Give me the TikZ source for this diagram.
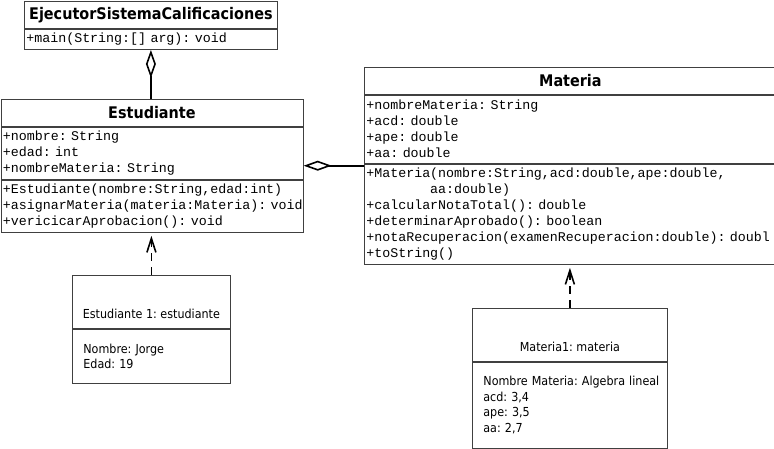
\documentclass[tikz,border=0pt]{standalone}
\usepackage{fontspec}
\usetikzlibrary{arrows.meta,fit,positioning}

\newfontfamily\umlsans{DejaVu Sans Condensed}
\newfontfamily\umlmono{Liberation Mono}
\frenchspacing
\hyphenpenalty=10000

\begin{document}
\begin{tikzpicture}[x=1pt,y=-1pt,thick,
  box/.style={draw=black!75,line width=0.8pt,inner xsep=2pt,inner ysep=0pt,anchor=north west},
  classname/.style={box,font=\umlsans\bfseries\fontsize{16}{19}\selectfont,minimum height=27pt},
  members/.style={box,font=\umlmono\fontsize{13.3}{16}\selectfont,align=left},
  objname/.style={box,font=\umlsans\fontsize{12.4}{15}\selectfont,text height=43pt,text depth=10pt},
  objslots/.style={box,inner xsep=11pt,font=\umlsans\fontsize{12.4}{15.5}\selectfont,align=left},
  aggr/.style={-{Diamond[open,length=28pt,width=10pt]},line width=1.6pt},
  dep/.style={-{Straight Barb[length=14pt,width=9pt]},dash pattern=on 8pt off 6pt,line width=1.6pt,shorten >=3pt}]

\useasboundingbox (0,0) rectangle (774,448);
\clip (0,0) rectangle (774,448);

% Clase EjecutorSistemaCalificaciones
\node[classname,minimum width=253pt] (ejecT) at (24,1) {EjecutorSistemaCalificaciones};
\node[members,text width=249pt,minimum height=20pt] (ejecM) at (ejecT.south west) {+main(String:[] arg): void};
\node[fit=(ejecT)(ejecM),inner sep=0pt] (ejec) {};

% Clase Estudiante
\node[classname,minimum width=302pt] (estT) at (0.5,99) {Estudiante};
\node[members,text width=298pt,minimum height=52pt] (estA) at (estT.south west)
  {+nombre: String\\+edad: int\\+nombreMateria: String};
\node[members,text width=298pt,minimum height=52pt] (estM) at (estA.south west)
  {+Estudiante(nombre:String,edad:int)\\+asignarMateria(materia:Materia):~void\\+vericicarAprobacion(): void};
\node[fit=(estT)(estM),inner sep=0pt] (est) {};

% Clase Materia
\node[classname,minimum width=412pt] (matT) at (364,67) {Materia};
\node[members,text width=408pt,minimum height=68pt] (matA) at (matT.south west)
  {+nombreMateria: String\\+acd: double\\+ape: double\\+aa: double};
\node[members,text width=408pt,minimum height=100pt] (matM) at (matA.south west)
  {+Materia(nombre:String,acd:double,ape:double,\\\hspace*{63.8pt}aa:double)\\+calcularNotaTotal(): double\\+determinarAprobado(): boolean\\+notaRecuperacion(examenRecuperacion:double): doubl\\+toString()};
\node[fit=(matT)(matM),inner sep=0pt] (mat) {};

% Objeto Estudiante 1
\node[objname,minimum width=158pt] (estObjT) at (72,275) {Estudiante 1: estudiante};
\node[objslots,text width=136pt,minimum height=54pt] (estObjS) at (estObjT.south west)
  {Nombre: Jorge\\Edad: 19};
\node[fit=(estObjT)(estObjS),inner sep=0pt] (estObj) {};

% Objeto Materia1
\node[objname,minimum width=195pt] (matObjT) at (472,308) {Materia1: materia};
\node[objslots,text width=173pt,minimum height=86pt] (matObjS) at (matObjT.south west)
  {Nombre~Materia:~Algebra~lineal\\acd: 3,4\\ape: 3,5\\aa: 2,7};
\node[fit=(matObjT)(matObjS),inner sep=0pt] (matObj) {};

% Agregaciones
\draw[aggr] (ejec.south |- est.north) -- (ejec.south);
\draw[aggr] (mat.west |- est.east) -- (est.east);

% Dependencias
\draw[dep] (estObj.north) -- (estObj.north |- est.south);
\draw[dep] (matObj.north) -- (matObj.north |- mat.south);

\end{tikzpicture}
\end{document}
